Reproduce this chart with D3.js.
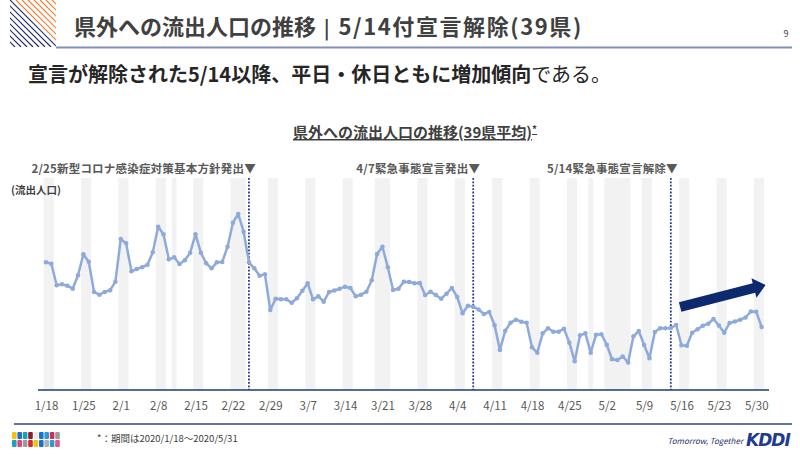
<!DOCTYPE html>
<html>
<head>
<meta charset="utf-8">
<script src="https://cdn.jsdelivr.net/npm/d3@7"></script>
<style>
  body { margin: 0; background: #fff; }
  svg { display: block; font-family: "Noto Sans CJK JP", "Noto Sans", sans-serif; }
</style>
</head>
<body>
<svg id="chart" width="800" height="455"></svg>
<script>
// daily values, 2020/1/18 - 2020/5/31 (39 prefecture average, index)
var startDate = "2020-01-18";
var values = [
  127.7, 126.3, 104.7, 105.7, 104.3, 101.3, 114.7, 135.7, 128.3, 98,
  95.3, 98, 99.7, 108.3, 151, 146.7, 118.7, 121, 122.7, 125.3,
  137.7, 163.3, 155.7, 130.7, 132.7, 126, 129.8, 137.3, 155.7, 137.3,
  126.7, 121.7, 127.7, 128, 143.3, 167.3, 176, 158.3, 127.7, 121.7,
  114.3, 115.7, 80, 91.3, 90.7, 90.7, 87.3, 91.7, 99.3, 106.7,
  90.7, 93.7, 88.3, 98, 99.5, 101.3, 103.3, 102, 93.7, 95.3,
  98.3, 109.7, 136, 143.3, 122.7, 100, 101.3, 108.3, 108, 106.7,
  107, 95, 98.3, 95, 91.3, 96.3, 102, 93, 76.7, 84.3,
  83.3, 80.5, 76, 78, 64.7, 40, 59.3, 67.3, 70.3, 68.3,
  67.3, 42.7, 37.3, 56.7, 61.7, 58.3, 58.3, 61.3, 47.3, 28.7,
  54.7, 56.7, 37.3, 55.3, 55.7, 45.3, 30.7, 30, 33.5, 27.5,
  53.7, 59, 45, 31.7, 58, 61.7, 61.8, 62, 65, 44.7,
  44.2, 57.3, 60.7, 64.3, 66.3, 71, 64.5, 57.3, 67, 68.5,
  70.3, 72.5, 78.5, 78.3, 63
];
// weekends and holidays (gray bands)
var offDays = [
  ["01-18", "01-19"], ["01-25", "01-26"], ["02-01", "02-02"], ["02-08", "02-09"],
  ["02-11", "02-11"], ["02-15", "02-16"], ["02-22", "02-24"], ["02-29", "03-01"],
  ["03-07", "03-08"], ["03-14", "03-15"], ["03-20", "03-22"], ["03-28", "03-29"],
  ["04-04", "04-05"], ["04-11", "04-12"], ["04-18", "04-19"], ["04-25", "04-26"],
  ["04-29", "04-29"], ["05-02", "05-06"], ["05-09", "05-10"], ["05-16", "05-17"],
  ["05-23", "05-24"], ["05-30", "05-31"]
];
var tickLabels = ["1/18", "1/25", "2/1", "2/8", "2/15", "2/22", "2/29", "3/7", "3/14", "3/21",
  "3/28", "4/4", "4/11", "4/18", "4/25", "5/2", "5/9", "5/16", "5/23", "5/30"];
var events = [
  {date: "02-25", label: "2/25新型コロナ感染症対策基本方針発出▼"},
  {date: "04-07", label: "4/7緊急事態宣言発出▼"},
  {date: "05-14", label: "5/14緊急事態宣言解除▼"}
];

var parse = function(s) { return new Date("2020-" + s + "T00:00:00Z"); };
var days = d3.utcDay.range(new Date(startDate + "T00:00:00Z"), d3.utcDay.offset(parse("05-31"), 1));
var data = days.map(function(d, i) { return {date: d, value: values[i]}; });

var svg = d3.select("#chart");
var plotTop = 178, plotBottom = 390;

var x = d3.scaleUtc()
  .domain([days[0], days[days.length - 1]])
  .range([46, 761.6]);
var y = d3.scaleLinear()
  .domain([0, 212])
  .range([plotBottom, plotTop]);
var dayW = x(days[1]) - x(days[0]);

// ---- header ----
var deco = svg.append("g");
deco.append("clipPath").attr("id", "decoClip")
  .append("rect").attr("x", 10).attr("y", 0).attr("width", 46).attr("height", 47);
var stripes = deco.append("g").attr("clip-path", "url(#decoClip)");
for (var k = -48; k < 50; k += 6) {
  stripes.append("line")
    .attr("x1", 10 + k).attr("y1", 0).attr("x2", 10 + k + 47).attr("y2", 47)
    .attr("stroke", k > 2 ? "#ed7d31" : "#1f2f6e")
    .attr("stroke-width", 1.2);
}
svg.append("line").attr("x1", 56).attr("x2", 792).attr("y1", 47.5).attr("y2", 47.5)
  .attr("stroke", "#7f8fbf").attr("stroke-width", 2);
var head = svg.append("text").attr("x", 74).attr("y", 35)
  .attr("font-size", 22).attr("font-weight", "bold").attr("fill", "#404040");
head.append("tspan").text("県外への流出人口の推移");
head.append("tspan").attr("font-weight", "normal").attr("font-family", "'DejaVu Sans', sans-serif")
  .attr("dx", 7).text("|");
head.append("tspan").attr("dx", 8).attr("letter-spacing", 1.6).text("5/14付宣言解除(39県)");
svg.append("text").attr("x", 786).attr("y", 37).attr("text-anchor", "middle")
  .attr("font-size", 9).attr("fill", "#404040").text("9");

var sub = svg.append("text").attr("x", 28).attr("y", 82)
  .attr("font-size", 20).attr("fill", "#262626");
sub.append("tspan").attr("font-weight", "bold").text("宣言が解除された5/14以降、平日・休日ともに増加傾向");
sub.append("tspan").text("である。");

// chart title
var title = svg.append("text").attr("x", 415).attr("y", 138).attr("text-anchor", "middle")
  .attr("font-size", 15).attr("font-weight", "bold").attr("fill", "#404040")
  .attr("text-decoration", "underline")
  .text("県外への流出人口の推移(39県平均)");
title.append("tspan").attr("font-size", 10).attr("dy", -5).text("*");

// ---- bands ----
svg.append("g").selectAll("rect")
  .data(offDays)
  .join("rect")
  .attr("x", function(d) { return x(parse(d[0])) - dayW / 2 + 0.3; })
  .attr("width", function(d) { return x(parse(d[1])) - x(parse(d[0])) + dayW - 0.6; })
  .attr("y", plotTop)
  .attr("height", plotBottom - plotTop)
  .attr("fill", "#f2f2f2");

svg.append("text").attr("x", 11).attr("y", 194)
  .attr("font-size", 10.5).attr("font-weight", "bold").attr("fill", "#404040")
  .text("(流出人口)");

// ---- axis ----
var tickDates = tickLabels.map(function(s) {
  var p = s.split("/");
  return new Date(Date.UTC(2020, +p[0] - 1, +p[1]));
});
var xAxis = svg.append("g")
  .attr("transform", "translate(0," + plotBottom + ")")
  .call(d3.axisBottom(x).tickValues(tickDates).tickSize(0).tickPadding(12)
    .tickFormat(function(d, i) { return tickLabels[i]; }));
xAxis.select(".domain").remove();
xAxis.selectAll("text").attr("font-size", 11.5).attr("fill", "#595959")
  .attr("font-family", "'Noto Sans CJK JP', sans-serif");
svg.append("line").attr("x1", 38).attr("x2", 769).attr("y1", plotBottom).attr("y2", plotBottom)
  .attr("stroke", "#1f3a7a").attr("stroke-width", 1.5);

// ---- event lines ----
var ev = svg.append("g").selectAll("g").data(events).join("g");
ev.append("line")
  .attr("x1", function(d) { return x(parse(d.date)); })
  .attr("x2", function(d) { return x(parse(d.date)); })
  .attr("y1", plotTop).attr("y2", plotBottom)
  .attr("stroke", "#1f3a93").attr("stroke-width", 1.8).attr("stroke-dasharray", "1.8,1.6");
ev.append("text")
  .attr("x", function(d) { return x(parse(d.date)) + 7; })
  .attr("y", 173)
  .attr("text-anchor", "end")
  .attr("font-size", 11.5).attr("font-weight", "bold").attr("fill", "#595959")
  .attr("letter-spacing", 0.2)
  .text(function(d) { return d.label; });

// ---- line ----
var line = d3.line()
  .x(function(d) { return x(d.date); })
  .y(function(d) { return y(d.value); });
svg.append("path").datum(data)
  .attr("fill", "none").attr("stroke", "#8eaadb").attr("stroke-width", 2.5)
  .attr("stroke-linejoin", "round")
  .attr("d", line);
svg.append("g").selectAll("circle").data(data).join("circle")
  .attr("cx", function(d) { return x(d.date); })
  .attr("cy", function(d) { return y(d.value); })
  .attr("r", 2.3)
  .attr("fill", "#8eaadb");

// ---- trend arrow ----
var a0 = [x(parse("05-15")) + 4, y(83)], a1 = [x(parse("05-31")) + 4, y(105)];
var ang = Math.atan2(a1[1] - a0[1], a1[0] - a0[0]);
var arrow = svg.append("g")
  .attr("transform", "translate(" + a0[0] + "," + a0[1] + ") rotate(" + (ang * 180 / Math.PI) + ")");
var len = Math.hypot(a1[0] - a0[0], a1[1] - a0[1]);
arrow.append("path")
  .attr("d", "M0,-5 L" + (len - 12) + ",-5 L" + (len - 12) + ",-10 L" + len + ",0 L" + (len - 12) + ",10 L" + (len - 12) + ",5 L0,5 Z")
  .attr("fill", "#0d2a6e");

// ---- footer ----
svg.append("line").attr("x1", 14).attr("x2", 792).attr("y1", 424).attr("y2", 424)
  .attr("stroke", "#2e4482").attr("stroke-width", 1.5);
var mosaic = [
  ["#f4c20d", "#1a73c9", "#1aa3b8", "#8b1e2d", "#e8e8e8", "#1a73c9", "#2b9ad6", "#c8325a", "#9a9a9a"],
  ["#1aa3b8", "#e0457b", "#9a9a9a", "#d6262e", "#f4c20d", "#1a73c9", "#b0b0b0", "#2b9ad6", "#e05a8a"]
];
var mg = svg.append("g").attr("transform", "translate(12,432)");
mosaic.forEach(function(row, r) {
  mg.selectAll(null).data(row).join("rect")
    .attr("x", function(d, c) { return c * 5.4; })
    .attr("y", r * 8)
    .attr("width", 4.6).attr("height", 7)
    .attr("rx", 1)
    .attr("fill", function(d) { return d; });
});
svg.append("text").attr("x", 97).attr("y", 442)
  .attr("font-size", 9.5).attr("fill", "#404040")
  .text("*：期間は2020/1/18～2020/5/31");
svg.append("text").attr("x", 743).attr("y", 444).attr("text-anchor", "end")
  .attr("font-size", 8).attr("font-style", "italic").attr("fill", "#1f2f6e")
  .text("Tomorrow, Together");
svg.append("text").attr("x", 746).attr("y", 446)
  .attr("font-size", 17).attr("font-weight", "bold").attr("font-style", "italic")
  .attr("fill", "#1f3a93").attr("font-family", "'DejaVu Sans', sans-serif")
  .attr("letter-spacing", -1)
  .text("KDDI");
</script>
</body>
</html>
